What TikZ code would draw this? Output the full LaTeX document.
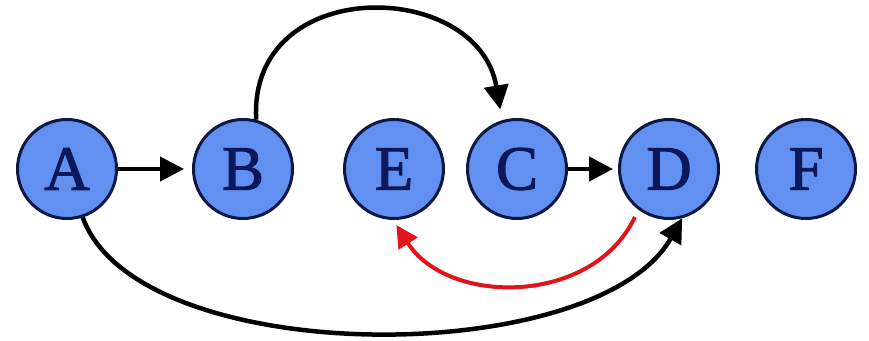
\documentclass[tikz,border=0pt]{standalone}
\usepackage{fontspec}
\setmainfont{Liberation Serif}
\newfontfamily\nodefont[FakeBold=1.6]{Liberation Serif}
\usetikzlibrary{arrows.meta}
\definecolor{nodefill}{RGB}{98,144,240}
\definecolor{nodeedge}{RGB}{14,24,70}
\definecolor{nodetext}{RGB}{12,24,90}
\definecolor{backred}{RGB}{225,20,28}
\tikzset{
  vertex/.style={circle, draw=nodeedge, fill=nodefill, line width=3pt,
    minimum size=99pt, inner sep=0pt, text=nodetext,
    font=\nodefont\fontsize{63}{63}\selectfont},
  blk/.style={line width=4.5pt, draw=black, -{Triangle[length=24pt,width=24pt]}},
  redarr/.style={line width=4pt, draw=backred, -{Triangle[length=22pt,width=22pt]}}
}
\begin{document}
\begin{tikzpicture}[x=1pt,y=1pt]
\useasboundingbox (0,0) rectangle (869,340);
\node[vertex] (A) at (67,171) {A};
\node[vertex] (B) at (243,171) {B};
\node[vertex] (E) at (394,171) {E};
\node[vertex] (C) at (517,171) {C};
\node[vertex] (D) at (669,171) {D};
\node[vertex] (F) at (806,171) {F};
\draw[blk, shorten >=8pt] (A) -- (B);
\draw[blk, shorten >=5pt] (C) -- (D);
\draw[blk, shorten >=11pt] (B.75) .. controls (248,366) and (478,362) .. (C.107);
\draw[blk] (A.-72) .. controls (138,-30) and (596,-30) .. (D.-75);
\draw[redarr, shorten <=8pt, shorten >=6pt] (D.-127) .. controls (593,34) and (448,34) .. (E.-91);
\end{tikzpicture}
\end{document}
